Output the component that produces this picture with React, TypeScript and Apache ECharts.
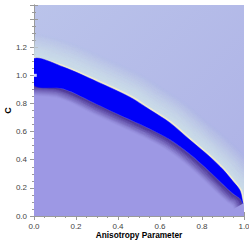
import React, { useEffect, useRef } from "react";
import * as echarts from "echarts";

// Band boundaries
const xs = [0, 0.14, 0.3, 0.457, 0.552, 0.648, 0.743, 0.838, 0.9, 0.948, 0.981, 0.995];
const upperC = [1.119, 1.059, 0.955, 0.845, 0.755, 0.662, 0.54, 0.42, 0.33, 0.245, 0.181, 0.089];
const lowerC = [0.929, 0.905, 0.795, 0.686, 0.62, 0.543, 0.44, 0.315, 0.225, 0.16, 0.125, 0.089];
const lowerEdgeEnd: [number, number] = [1, 0.06];
const markerPoint: [number, number] = [0.006, 1.0];

const xTicks = [0, 0.2, 0.4, 0.6, 0.8, 1.0];
const yTicks = [0, 0.2, 0.4, 0.6, 0.8, 1.0, 1.2, 1.4];

const FONT = "Arial";
const FRAME = "#9a9a9a";

type P = number[];

// offset a pixel polyline along its normals (side = +1 up-right, -1 down-left)
function offsetLine(pts: P[], d: number, side: number): P[] {
  const n = pts.length;
  const out: P[] = [];
  for (let i = 0; i < n; i++) {
    const a = pts[Math.max(0, i - 1)];
    const b = pts[Math.min(n - 1, i + 1)];
    let tx = b[0] - a[0];
    let ty = b[1] - a[1];
    const len = Math.hypot(tx, ty) || 1;
    tx /= len;
    ty /= len;
    out.push([pts[i][0] + side * ty * d, pts[i][1] - side * tx * d]);
  }
  const f = out[0];
  out.unshift([f[0] - 30, f[1]]);
  return out;
}

export default function App() {
  const ref = useRef<HTMLDivElement>(null);
  useEffect(() => {
    document.body.style.margin = "0";
    if (!ref.current) return;
    const chart = echarts.init(ref.current, null, { renderer: "svg" });

    const lowerPts = xs.map((x, i) => [x, lowerC[i]]);
    const upperPts = xs.map((x, i) => [x, upperC[i]]);

    const axisCommon = {
      type: "value" as const,
      axisLine: { show: true, lineStyle: { color: FRAME, width: 1 } },
      axisTick: { show: true, inside: true, length: 4, lineStyle: { color: FRAME } },
      minorTick: { show: true, splitNumber: 4, length: 2, lineStyle: { color: FRAME } },
      splitLine: { show: false },
    };
    const labelCommon = {
      fontSize: 8,
      color: "#444",
      fontFamily: FONT,
      formatter: (v: number) => v.toFixed(1),
    };

    chart.setOption({
      animation: false,
      backgroundColor: "#fff",
      grid: {
        left: 34,
        right: 5,
        top: 5,
        bottom: 28,
        show: true,
        borderWidth: 0,
        containLabel: false,
        outerBoundsMode: "none",
        backgroundColor: new echarts.graphic.LinearGradient(0, 0, 1, 1, [
          { offset: 0, color: "#bac3ea" },
          { offset: 1, color: "#adb1e6" },
        ]),
      },
      xAxis: [
        {
          ...axisCommon,
          min: 0,
          max: 1,
          interval: 0.2,
          position: "bottom",
          offset: 3,
          axisLabel: { ...labelCommon, margin: 3, customValues: xTicks },
          name: "Anisotropy Parameter",
          nameLocation: "middle",
          nameGap: 12,
          nameMoveOverlap: false,
          nameTextStyle: { fontWeight: "bold", fontSize: 8.3, color: "#000", fontFamily: FONT },
        },
        {
          ...axisCommon,
          min: 0,
          max: 1,
          interval: 0.2,
          position: "top",
          offset: 4,
          axisLabel: { show: false },
        },
      ],
      yAxis: [
        {
          ...axisCommon,
          min: 0,
          max: 1.5,
          interval: 0.2,
          position: "left",
          offset: 3,
          axisLabel: { ...labelCommon, margin: 4, showMaxLabel: false, customValues: yTicks },
          name: "C",
          nameLocation: "middle",
          nameGap: 19,
          nameMoveOverlap: false,
          nameTextStyle: { fontWeight: "bold", fontSize: 9, color: "#000", fontFamily: FONT },
        },
        {
          ...axisCommon,
          min: 0,
          max: 1.5,
          interval: 0.2,
          position: "right",
          offset: 1,
          axisLabel: { show: false },
        },
      ],
      series: [
        {
          type: "line",
          name: "below",
          data: [...lowerPts, lowerEdgeEnd],
          symbol: "none",
          smooth: 0.35,
          lineStyle: { width: 0 },
          areaStyle: { color: "#9d98e4", opacity: 1 },
          z: 1,
        },
        {
          type: "custom",
          name: "band",
          data: [[0, 0]],
          clip: true,
          renderItem: (params: any, api: any) => {
            const up = upperPts.map((p) => api.coord(p));
            const lo = lowerPts.map((p) => api.coord(p));
            const children: any[] = [];
            const N = 26;
            for (let k = N; k >= 1; k--) {
              const t = k / N;
              const a = 0.85 * Math.pow(1 - t, 1.3);
              children.push({
                type: "polyline",
                shape: { points: offsetLine(up, k, 1), smooth: 0.35 },
                style: { stroke: `rgba(204,222,232,${a.toFixed(3)})`, lineWidth: 2.2, fill: null },
              });
            }
            children.push({
              type: "polyline",
              shape: { points: offsetLine(up, 1, 1), smooth: 0.35 },
              style: { stroke: "rgba(240,234,208,0.95)", lineWidth: 2, fill: null },
            });
            const M = 11;
            for (let k = M; k >= 1; k--) {
              const t = k / M;
              const a = 0.8 * Math.pow(1 - t, 1.4);
              children.push({
                type: "polyline",
                shape: { points: offsetLine(lo, k, -1), smooth: 0.35 },
                style: { stroke: `rgba(62,36,132,${a.toFixed(3)})`, lineWidth: 1.6, fill: null },
              });
            }
            const pts = [...up, ...lo.slice().reverse()];
            children.push({
              type: "polygon",
              shape: { points: pts, smooth: 0.3 },
              style: { fill: "#0000f8", stroke: "#0000f8", lineWidth: 0.5 },
            });
            return { type: "group", children };
          },
          z: 5,
        },
        {
          type: "scatter",
          data: [markerPoint],
          symbol: "rect",
          symbolSize: 3,
          itemStyle: { color: "#ffffff" },
          z: 6,
        },
      ],
    });
    return () => chart.dispose();
  }, []);
  return <div ref={ref} style={{ width: 249, height: 244 }} />;
}
